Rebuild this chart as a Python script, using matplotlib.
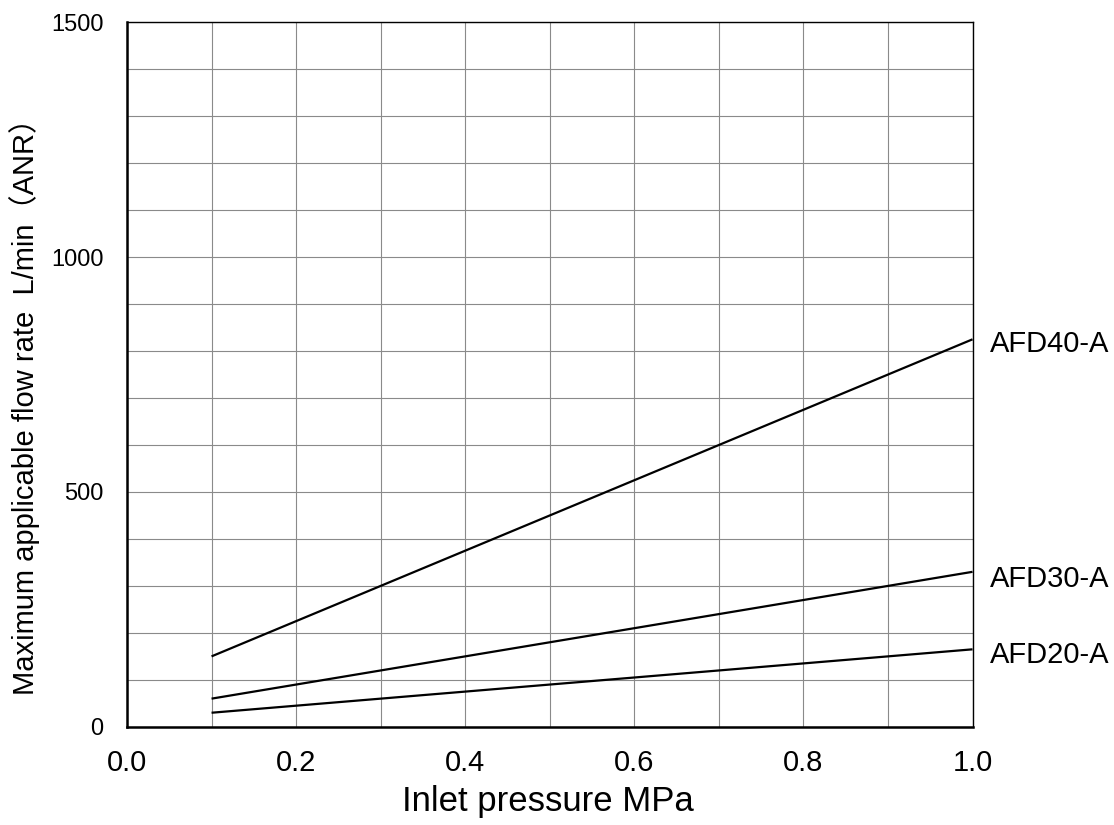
import numpy as np
from matplotlib import pyplot as plt
from matplotlib.ticker import MultipleLocator

plt.rcParams['font.family'] = ['Liberation Sans', 'Noto Sans CJK JP', 'DejaVu Sans']

pressure = [0.1, 1.0]  # MPa
models = ["AFD40-A", "AFD30-A", "AFD20-A"]
flow = {
    "AFD40-A": [150, 825],
    "AFD30-A": [60, 330],
    "AFD20-A": [30, 165],
}
label_y = {"AFD40-A": 815, "AFD30-A": 315, "AFD20-A": 152}

fig = plt.figure(figsize=(11.14, 8.25), dpi=100)
ax = fig.add_axes([0.114, 0.119, 0.759, 0.854])

for m in models:
    ax.plot(pressure, flow[m], color="black", lw=1.6, solid_capstyle="butt")
    ax.text(1.021, label_y[m], m, fontsize=21, va="center", ha="left")

ax.set_xlim(0, 1.0)
ax.set_ylim(0, 1500)
ax.xaxis.set_major_locator(MultipleLocator(0.2))
ax.xaxis.set_minor_locator(MultipleLocator(0.1))
ax.yaxis.set_major_locator(MultipleLocator(500))
ax.yaxis.set_minor_locator(MultipleLocator(100))
ax.xaxis.set_major_formatter(plt.FuncFormatter(lambda v, p: f"{v:.1f}"))
ax.grid(which="both", color="#8a8a8a", lw=0.8)
ax.tick_params(which="both", length=0)
ax.tick_params(axis="x", labelsize=21, pad=16)
ax.tick_params(axis="y", labelsize=17, pad=17)

for s in ["left", "bottom"]:
    ax.spines[s].set_linewidth(1.8)
for s in ["top", "right"]:
    ax.spines[s].set_linewidth(1.0)

ax.set_xlabel("Inlet pressure MPa", fontsize=25)
ax.set_ylabel("Maximum applicable flow rate  L/min（ANR）", fontsize=21)
ax.xaxis.set_label_coords(0.498, -0.083)
ax.yaxis.set_label_coords(-0.103, 0.464)

plt.savefig("out.png")
